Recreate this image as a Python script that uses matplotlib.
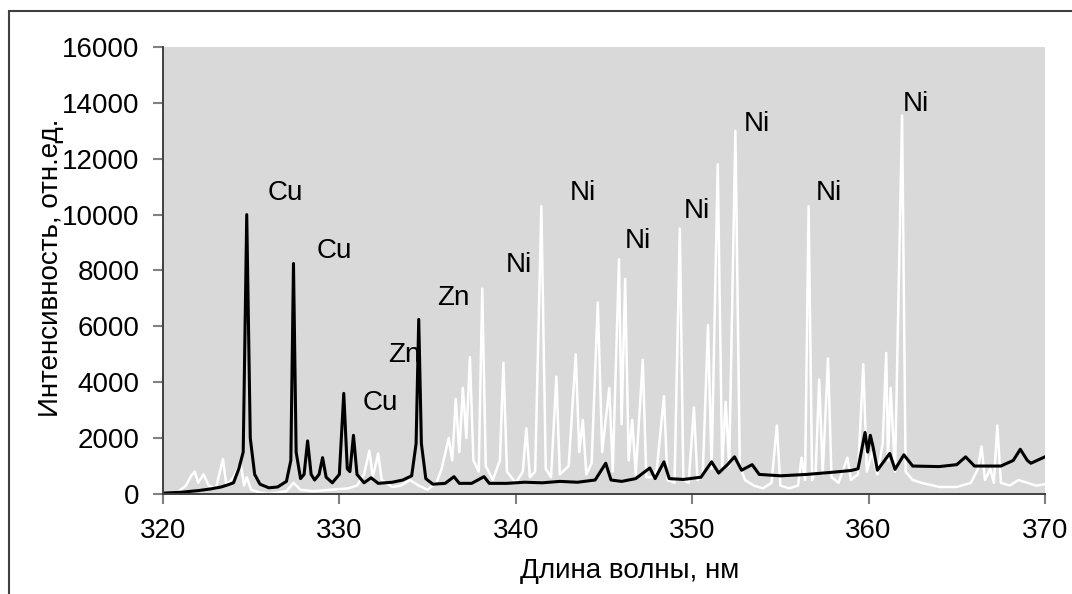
import matplotlib
matplotlib.use('Agg')
import matplotlib.pyplot as plt
from matplotlib.patches import Rectangle

plt.rcParams['font.family'] = ['Liberation Sans', 'DejaVu Sans']

# black spectrum (wavelength, nm / intensity)
black_x = [320.0, 321.0, 322.0, 322.7, 323.3, 323.7, 324.0, 324.3, 324.55, 324.75,
           324.95, 325.2, 325.5, 326.0, 326.5, 327.0, 327.25, 327.4, 327.55, 327.8,
           328.0, 328.2, 328.4, 328.6, 328.85, 329.05, 329.25, 329.6, 330.0, 330.25,
           330.45, 330.6, 330.8, 331.0, 331.4, 331.8, 332.2, 333.0, 333.6, 334.1,
           334.35, 334.5, 334.65, 334.9, 335.3, 336.0, 336.5, 336.8, 337.5, 338.2,
           338.5, 339.5, 340.5, 341.5, 342.5, 343.5, 344.5, 345.1, 345.4, 346.0,
           346.8, 347.6, 347.9, 348.4, 348.7, 349.5, 350.5, 351.1, 351.5, 352.0,
           352.4, 352.8, 353.4, 353.8, 355.0, 356.5, 358.0, 359.0, 359.4, 359.8, 359.95,
           360.1, 360.25, 360.5, 361.2, 361.5, 362.0, 362.5, 364.0, 365.0, 365.5, 366.0,
           367.5, 368.2, 368.6, 369.0, 369.2, 370.0]
black_y = [30, 60, 120, 180, 250, 330, 400, 900, 1500, 10000,
           2000, 700, 350, 220, 250, 450, 1200, 8250, 1500, 550,
           700, 1900, 700, 500, 700, 1300, 600, 400, 700, 3600,
           900, 800, 2100, 700, 400, 580, 380, 420, 500, 650,
           1800, 6250, 1800, 550, 350, 380, 620, 380, 380, 620,
           380, 380, 420, 400, 450, 420, 500, 1100, 500, 450,
           550, 930, 550, 1150, 550, 520, 600, 1150, 750, 1050,
           1330, 850, 1050, 700, 650, 700, 780, 840, 900, 2200, 1500,
           2100, 1700, 850, 1450, 880, 1400, 1000, 980, 1050, 1330, 1000,
           1000, 1200, 1600, 1200, 1100, 1330]

# white spectrum
white_x = [320.0, 320.8, 321.3, 321.6, 321.8, 322.0, 322.3, 322.6, 323.0, 323.4,
           323.6, 324.0, 324.4, 324.6, 324.75, 325.0, 325.5, 326.0, 326.5, 327.0,
           327.4, 327.8, 328.5, 329.5, 330.5, 331.0, 331.4, 331.7, 331.9, 332.2,
           332.4, 333.0, 333.5, 334.0, 334.5, 335.0, 335.5, 335.8, 336.2, 336.4,
           336.6, 336.8, 337.0, 337.2, 337.4, 337.6, 337.9, 338.1, 338.3, 338.7,
           339.1, 339.3, 339.5, 340.0, 340.4, 340.6, 340.8, 341.1, 341.45, 341.7,
           342.0, 342.3, 342.5, 343.0, 343.4, 343.6, 343.8, 344.0, 344.3, 344.65,
           344.9, 345.3, 345.5, 345.85, 346.0, 346.2, 346.4, 346.6, 346.8, 347.2,
           347.4, 347.8, 348.0, 348.4, 348.6, 349.0, 349.3, 349.5, 349.8, 350.1,
           350.3, 350.6, 350.9, 351.1, 351.45, 351.7, 351.9, 352.1, 352.45, 352.7,
           353.0, 353.5, 354.0, 354.5, 354.8, 355.0, 355.5, 356.0, 356.2, 356.4,
           356.6, 356.8, 357.0, 357.2, 357.4, 357.7, 357.9, 358.3, 358.8, 359.0,
           359.4, 359.7, 359.9, 360.2, 360.5, 360.8, 361.0, 361.1, 361.25, 361.5,
           361.9, 362.1, 362.5, 363.0, 364.0, 365.0, 365.8, 366.2, 366.4, 366.6,
           366.9, 367.1, 367.3, 367.5, 368.0, 368.5, 369.0, 369.5, 370.0]
white_y = [0, 50, 300, 650, 800, 400, 700, 300, 200, 1250,
           300, 600, 1100, 300, 600, 150, 50, 0, 50, 100,
           400, 150, 100, 150, 200, 300, 700, 1550, 600, 1450,
           500, 250, 300, 500, 300, 150, 400, 900, 2000, 1200,
           3400, 1500, 3800, 2000, 4900, 1200, 800, 7350, 1000, 500,
           1200, 4700, 800, 400, 800, 2350, 600, 800, 10300, 900,
           600, 4200, 700, 1000, 5000, 1500, 2650, 700, 1100, 6850,
           1500, 3800, 800, 8400, 2500, 7700, 1200, 2650, 700, 4800,
           600, 600, 900, 3500, 500, 400, 9500, 500, 400, 3100,
           500, 700, 6050, 900, 11800, 1000, 3300, 1000, 13000, 1000,
           500, 300, 200, 400, 2450, 300, 200, 300, 1300, 500,
           10300, 500, 800, 4100, 700, 4850, 600, 400, 1300, 500,
           700, 4650, 800, 1500, 700, 1800, 5050, 1200, 3800, 800,
           13550, 800, 500, 400, 250, 250, 400, 900, 1700, 500,
           900, 400, 2450, 400, 300, 500, 400, 300, 350]

# peak labels
label_text = ['Cu', 'Cu', 'Cu', 'Zn', 'Zn', 'Ni', 'Ni', 'Ni', 'Ni', 'Ni', 'Ni', 'Ni']
label_x = [326.96, 329.74, 332.34, 333.7, 336.48, 340.16, 343.78, 346.9, 350.24, 353.69, 357.77, 362.7]
label_y = [10770, 8700, 3260, 4980, 7020, 8200, 10770, 9060, 10130, 13240, 10770, 13960]

fig = plt.figure(figsize=(10.72, 5.94), dpi=100)
ax = fig.add_axes([0.152, 0.1684, 0.8228, 0.7525])
ax.set_facecolor('#d9d9d9')

ax.plot(white_x, white_y, color='white', lw=1.8)
ax.plot(black_x, black_y, color='black', lw=2.2)

for t, x, y in zip(label_text, label_x, label_y):
    ax.text(x, y, t, fontsize=20, ha='center', va='center')

ax.set_xlim(320, 370)
ax.set_ylim(0, 16000)
ax.set_xticks(range(320, 371, 10))
ax.set_yticks(range(0, 16001, 2000))

for s in ['top', 'right']:
    ax.spines[s].set_visible(False)
for s in ['left', 'bottom']:
    ax.spines[s].set_color('#404040')
    ax.spines[s].set_linewidth(1.4)
ax.tick_params(axis='both', labelsize=20, color='#808080', width=1.5, length=7, pad=10)

ax.set_xlabel('Длина волны, нм', fontsize=20)
ax.set_ylabel('Интенсивность, отн.ед.', fontsize=20)
ax.xaxis.set_label_coords(0.5295, -0.143)
ax.yaxis.set_label_coords(-0.112, 0.506)

# outer frame, cut off on the right and bottom
fig.patches.append(Rectangle((9 / 1072, -0.2), 1.2, 1.2 - 11 / 594,
                             transform=fig.transFigure, fill=False,
                             ec='#404040', lw=1.5))

fig.savefig('out.png', dpi=100)
